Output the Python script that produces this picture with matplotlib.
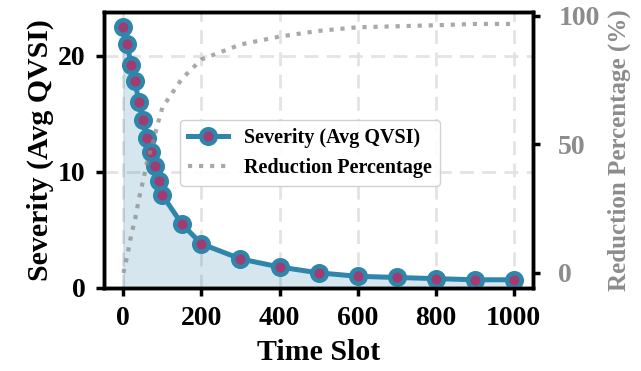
import matplotlib
matplotlib.use("Agg")
import matplotlib.pyplot as plt
import numpy as np

# Data
time_slots = [0, 10, 20, 30, 40, 50, 60, 70, 80, 90, 100,
              150, 200, 300, 400, 500, 600, 700, 800, 900, 1000]
severity = [22.5, 21.0, 19.2, 17.8, 16.0, 14.5, 12.9, 11.7, 10.5, 9.2, 8.0,
            5.5, 3.8, 2.5, 1.8, 1.3, 1.0, 0.9, 0.8, 0.7, 0.7]
reduction = [0.0, 6.7, 14.7, 20.9, 28.9, 35.6, 42.7, 48.0, 53.3, 59.1, 64.4,
             75.6, 83.1, 88.9, 92.0, 94.2, 95.6, 96.0, 96.4, 96.9, 96.9]

plt.rcParams["font.family"] = ["Liberation Serif", "DejaVu Serif"]
plt.rcParams["font.weight"] = "bold"

line_color = "#2E86AB"
marker_color = "#A23B72"
gray = "#8c8c8c"

fig = plt.figure(figsize=(6.41, 3.71), dpi=100)
ax = fig.add_axes([0.162, 0.224, 0.670, 0.744])

ax.fill_between(time_slots, severity, 0, color=line_color, alpha=0.2, zorder=1)
l1, = ax.plot(time_slots, severity, color=line_color, linewidth=3.6,
              marker="o", markersize=10.5, markerfacecolor=marker_color,
              markeredgecolor=line_color, markeredgewidth=3.2,
              label="Severity (Avg QVSI)", zorder=3)

ax.set_xlim(-50, 1050)
ax.set_ylim(0, 23.8)
ax.set_xticks([0, 200, 400, 600, 800, 1000])
ax.set_yticks([0, 10, 20])
ax.grid(True, linestyle=(0, (5, 3)), color="#e0e0e0", linewidth=2, alpha=0.9)
ax.set_axisbelow(True)
ax.set_xlabel("Time Slot", fontsize=21.5, fontweight="bold", labelpad=6)
ax.set_ylabel("Severity (Avg QVSI)", fontsize=21.5, fontweight="bold", labelpad=3)
ax.tick_params(labelsize=20, width=2.5, length=6, pad=7)
for lab in ax.get_xticklabels() + ax.get_yticklabels():
    lab.set_fontweight("bold")
for sp in ax.spines.values():
    sp.set_linewidth(2.5)

ax2 = ax.twinx()
l2, = ax2.plot(time_slots, reduction, color=gray, linestyle=":", linewidth=3,
               alpha=0.75, label="Reduction Percentage")
ax2.set_ylim(-5.8, 101.6)
ax2.set_yticks([0, 50, 100])
ax2.set_ylabel("Reduction Percentage (%)", fontsize=18, fontweight="bold",
               color=gray, labelpad=6)
ax2.tick_params(labelsize=20, width=2.5, length=5, labelcolor=gray, pad=13)
for lab in ax2.get_yticklabels():
    lab.set_fontweight("bold")
for sp in ax2.spines.values():
    sp.set_linewidth(2.5)

leg = ax.legend([l1, l2], ["Severity (Avg QVSI)", "Reduction Percentage"],
                loc="center", bbox_to_anchor=(0.48, 0.49),
                prop={"size": 14.5, "weight": "bold"}, framealpha=0.9,
                fancybox=True)
leg.set_zorder(5)

fig.savefig("out.png", dpi=100)
